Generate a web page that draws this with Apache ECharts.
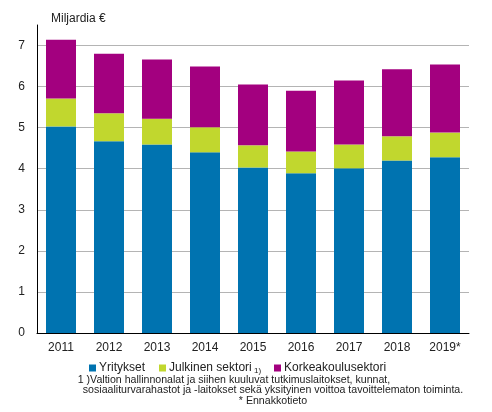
<!DOCTYPE html>
<html>
<head>
<meta charset="utf-8">
<script src="https://cdn.jsdelivr.net/npm/echarts@6/dist/echarts.min.js"></script>
<style>
  html, body { margin: 0; padding: 0; background: #fff; }
  #main { width: 492px; height: 412px; }
</style>
</head>
<body>
<div id="main"></div>
<script>
// vuodet ja sektorit (miljardia euroa)
var years = ['2011', '2012', '2013', '2014', '2015', '2016', '2017', '2018', '2019*'];
var yritykset = [5.03, 4.67, 4.59, 4.40, 4.03, 3.89, 4.01, 4.20, 4.28];
var julkinen = [0.68, 0.68, 0.63, 0.61, 0.54, 0.53, 0.58, 0.59, 0.60];
var korkeakoulu = [1.43, 1.45, 1.44, 1.48, 1.48, 1.48, 1.56, 1.63, 1.66];

var font = 'Liberation Sans, Arial, sans-serif';
var chart = echarts.init(document.getElementById('main'));

// alaviitteet
function note(text, x, y) {
    return {
        type: 'text',
        style: { text: text, x: x, y: y, align: 'center', verticalAlign: 'middle',
                 fontSize: 10.6, fill: '#222', fontFamily: font }
    };
}

var option = {
    animation: false,
    textStyle: { fontFamily: font },
    title: {
        text: 'Miljardia €',
        left: 46,
        top: 8,
        textStyle: { fontSize: 12, fontWeight: 'normal', color: '#222', fontFamily: font }
    },
    grid: { left: 37, right: 23, top: 25, bottom: 79 },
    legend: [{
        data: ['Yritykset', 'Julkinen sektori'],
        left: 84,
        top: 357,
        itemWidth: 7,
        itemHeight: 7,
        itemGap: 14,
        icon: 'rect',
        textStyle: { fontSize: 12, color: '#222', fontFamily: font, padding: [0, 0, 0, -2] }
    }, {
        data: ['Korkeakoulusektori'],
        left: 269,
        top: 357,
        itemWidth: 7,
        itemHeight: 7,
        icon: 'rect',
        textStyle: { fontSize: 12, color: '#222', fontFamily: font, padding: [0, 0, 0, -2] }
    }],
    xAxis: {
        type: 'category',
        data: years,
        axisLine: { lineStyle: { color: '#000', width: 1 } },
        axisTick: { show: false },
        axisLabel: { color: '#222', fontSize: 12, margin: 9, fontFamily: font }
    },
    yAxis: {
        type: 'value',
        min: 0,
        max: 7.5,
        interval: 1,
        axisLine: { show: true, lineStyle: { color: '#000', width: 1 } },
        axisTick: { show: false },
        axisLabel: {
            color: '#222', fontSize: 12, margin: 12, fontFamily: font,
            formatter: function (v) { return v > 7 ? '' : v; }
        },
        splitLine: {
            lineStyle: {
                color: ['transparent', '#b4b4b4', '#b4b4b4', '#b4b4b4', '#b4b4b4',
                        '#b4b4b4', '#b4b4b4', '#b4b4b4', 'transparent'],
                width: 1
            }
        }
    },
    series: [{
        name: 'Yritykset',
        type: 'bar',
        stack: 'a',
        barWidth: 30,
        itemStyle: { color: '#0073b0' },
        data: yritykset
    }, {
        name: 'Julkinen sektori',
        type: 'bar',
        stack: 'a',
        itemStyle: { color: '#c1d72e' },
        data: julkinen
    }, {
        name: 'Korkeakoulusektori',
        type: 'bar',
        stack: 'a',
        itemStyle: { color: '#a3007f' },
        data: korkeakoulu
    }],
    graphic: [{
        type: 'text',
        style: { text: '1)', x: 254, y: 367, fontSize: 8, fill: '#222', fontFamily: font }
    },
        note('1 )Valtion hallinnonalat ja siihen kuuluvat tutkimuslaitokset, kunnat,', 234, 380),
        note('sosiaaliturvarahastot ja -laitokset sekä yksityinen voittoa tavoittelematon toiminta.', 273, 390),
        note('* Ennakkotieto', 273, 401)
    ]
};

chart.setOption(option);
</script>
</body>
</html>
